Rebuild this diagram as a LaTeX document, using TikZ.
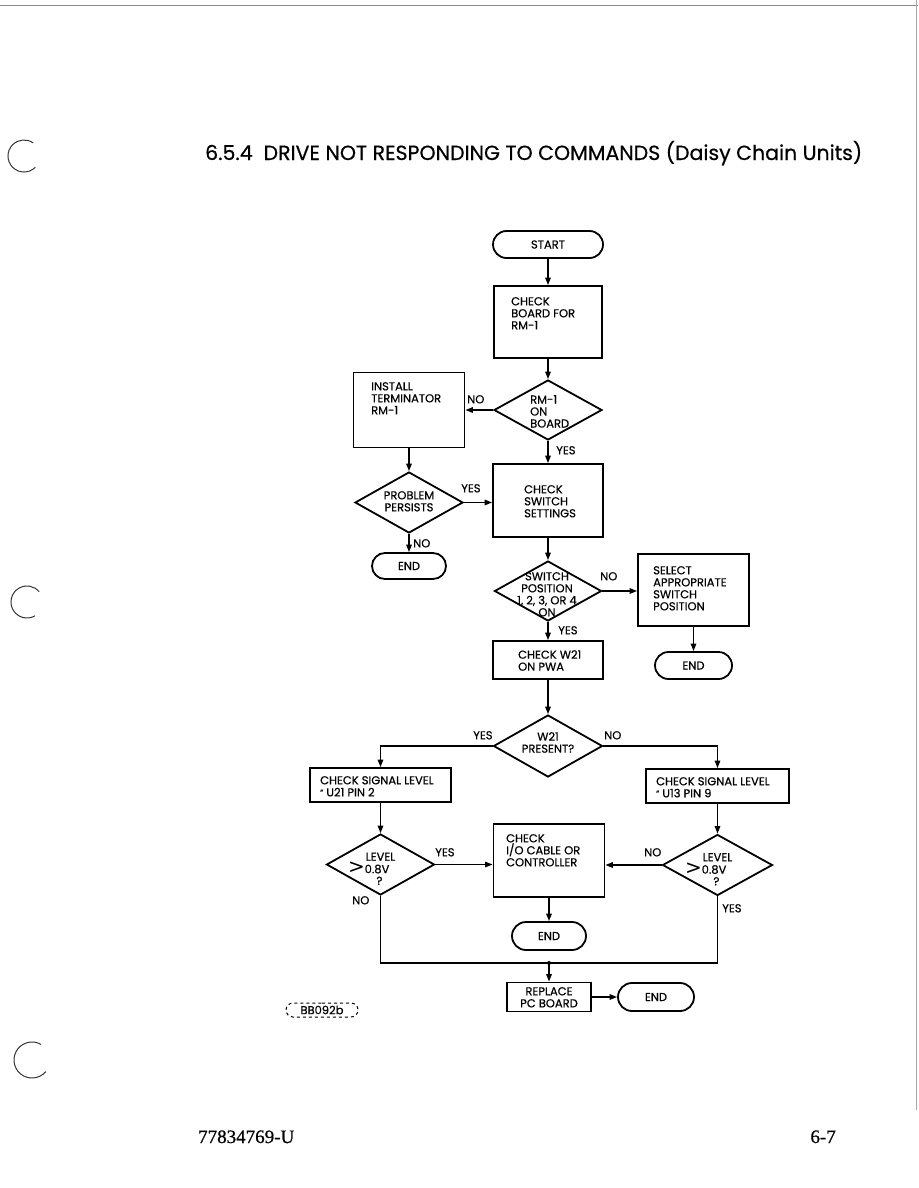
\documentclass[tikz,border=0pt]{standalone}
\usepackage{graphicx}
\usepackage{fontspec}
\setmainfont{Poppins}[FakeBold=0.5]
\newfontfamily\footfont{Liberation Serif}[FakeBold=0.8]
\newfontfamily\symfont{DejaVu Sans}
\usetikzlibrary{shapes.geometric,shapes.misc,arrows.meta,calc}
\newcommand\lbl{\fontsize{11.5}{12}\selectfont}
\newcommand\atmark{\raisebox{1pt}{\fontsize{8}{8}\selectfont ”}}
\tikzset{
  flow/.style={line width=1.8pt, draw=black},
  procbox/.style={flow, rectangle, inner sep=0pt},
  term/.style={flow, rounded rectangle, inner sep=0pt, font=\lbl},
  decide/.style={flow, diamond, inner sep=0pt},
  txt/.style={inner sep=0pt, anchor=north west, align=left, font=\lbl},
  ctxt/.style={inner sep=0pt, anchor=north, align=center, font=\lbl},
  conn/.style={line width=1.5pt, -{Triangle[length=7.5pt,width=5.5pt]}},
  plainline/.style={line width=1.5pt},
  deco/.style={line width=1pt, black!80},
}
\begin{document}
\begin{tikzpicture}[x=1pt,y=-1pt]
\useasboundingbox (0,0) rectangle (918,1188);
% page decorations
\draw[line width=0.7pt, black!45] (0,5) -- (918,5);
\draw[line width=0.6pt, black!35] (916,0) -- (916,1110);
\draw[deco] (24,156) ++(45:16) arc[start angle=45, end angle=305, radius=16];
\draw[deco] (27,602) ++(60:16) arc[start angle=60, end angle=320, radius=16];
\draw[deco] (32,1060) ++(40:18) arc[start angle=40, end angle=300, radius=18];
% title
\node[anchor=base west, inner sep=0pt] (title) at (205,160)
  {\resizebox{657pt}{!}{6.5.4\ \ DRIVE NOT RESPONDING TO COMMANDS (Daisy Chain Units)}};
% nodes
\node[term, minimum width=110pt, minimum height=27pt] (start) at (548,244.5) {START};
\node[procbox, minimum width=108pt, minimum height=72pt] (chkboard) at (548,322) {};
\node[txt] (tchkboard) at (511,297) {CHECK\\BOARD FOR\\RM-1};
\node[decide, minimum width=108pt, minimum height=60pt] (rm1) at (548,410) {};
\node[txt] (trm1) at (530,395) {RM-1\\ON\\BOARD};
\node[procbox, minimum width=111pt, minimum height=75pt] (install) at (409,410) {};
\node[txt] (tinstall) at (371,382) {INSTALL\\TERMINATOR\\RM-1};
\node[procbox, minimum width=110pt, minimum height=73pt] (chksw) at (548,500.5) {};
\node[txt] (tchksw) at (524,485) {CHECK\\SWITCH\\SETTINGS};
\node[decide, minimum width=108pt, minimum height=61pt] (prob) at (409,502.5) {};
\node[ctxt] (tprob) at (409,491) {PROBLEM\\PERSISTS};
\node[term, minimum width=74pt, minimum height=26pt] (end1) at (409,566) {END};
\node[decide, minimum width=107pt, minimum height=60pt] (sw) at (548,591) {};
\node[ctxt] (tsw) at (547,572) {SWITCH\\POSITION\\1, 2, 3, OR 4\\ON};
\node[procbox, minimum width=111pt, minimum height=72pt] (select) at (693.5,590) {};
\node[txt] (tselect) at (653,566) {SELECT\\APPROPRIATE\\SWITCH\\POSITION};
\node[term, minimum width=77pt, minimum height=27pt] (end2) at (693.5,665.5) {END};
\node[procbox, minimum width=110pt, minimum height=38pt] (w21box) at (548,660) {};
\node[txt] (tw21box) at (518,650) {CHECK W21\\ON PWA};
\node[decide, minimum width=109pt, minimum height=62pt] (w21) at (548,746) {};
\node[ctxt] (tw21) at (548,732) {W21\\PRESENT?};
\node[procbox, minimum width=141pt, minimum height=34pt] (sigL) at (380.5,785) {};
\node[txt] (tsigL) at (320,776) {CHECK SIGNAL LEVEL\\\atmark\ U21 PIN 2};
\node[procbox, minimum width=143pt, minimum height=34pt] (sigR) at (717.5,786) {};
\node[txt] (tsigR) at (656,777) {CHECK SIGNAL LEVEL\\\atmark\ U13 PIN 9};
\node[decide, minimum width=108pt, minimum height=61pt] (lvlL) at (380.5,864.5) {};
\node[decide, minimum width=110pt, minimum height=61pt] (lvlR) at (717.5,865) {};
\foreach \d in {lvlL,lvlR}{
  \node[ctxt] at ($(\d.center)+(0,-12)$) {LEVEL};
  \node[inner sep=0pt, font=\symfont\fontsize{20}{20}\selectfont] at ($(\d.center)+(-24,3.5)$) {>};
  \node[txt] at ($(\d.center)+(-16,0)$) {0.8V};
  \node[ctxt] at ($(\d.center)+(-1,12)$) {?};
}
\node[procbox, minimum width=111pt, minimum height=73pt] (io) at (549,860.5) {};
\node[txt] (tio) at (506,834) {CHECK\\I/O CABLE OR\\CONTROLLER};
\node[term, minimum width=74pt, minimum height=28pt] (end3) at (549,936) {END};
\node[procbox, minimum width=84pt, minimum height=29pt] (repl) at (549,997) {};
\node[ctxt] (trepl) at (549,987) {REPLACE\\PC BOARD};
\node[term, minimum width=76pt, minimum height=28pt] (end4) at (656,997) {END};
\node[draw, dashed, rounded rectangle, line width=1pt, inner sep=0pt,
  minimum width=72pt, minimum height=14pt, font=\fontsize{11.5}{11.5}\selectfont] (fig) at (322,1010) {BB092b};
% connectors
\draw[conn] (start.south) -- (chkboard.north);
\draw[conn] (chkboard.south) -- (rm1.north);
\draw[conn] (rm1.west) -- (rm1.west -| install.east);
\draw[conn] (rm1.south) -- (chksw.north);
\draw[conn] (install.south) -- (prob.north);
\draw[conn] (prob.east) -- (prob.east -| chksw.west);
\draw[conn] (prob.south) -- (end1.north);
\draw[conn] (chksw.south) -- (sw.north);
\draw[conn] (sw.east) -- (sw.east -| select.west);
\draw[conn] (select.south) -- (select.south |- end2.north);
\draw[conn] (sw.south) -- (w21box.north);
\draw[conn] (w21box.south) -- (w21.north);
\draw[conn] (w21.west) -| (sigL.north);
\draw[conn] (w21.east) -| (sigR.north);
\draw[conn] (sigL.south) -- (lvlL.north);
\draw[conn] (sigR.south) -- (lvlR.north);
\draw[conn] (lvlL.east) -- (lvlL.east -| io.west);
\draw[conn] (lvlR.west) -- (lvlR.west -| io.east);
\draw[conn] (io.south) -- (end3.north);
\coordinate (jn) at (549,963);
\draw[plainline] (lvlL.south) |- (jn) -| (lvlR.south);
\fill (jn) circle (2pt);
\draw[conn] (jn) -- (repl.north);
\draw[conn] (repl.east) -- (end4.west);
% connector labels
\node[txt] at (467,395) {NO};
\node[txt] at (556,446) {YES};
\node[txt] at (461,484) {YES};
\node[txt] at (413,539) {NO};
\node[txt] at (600,572) {NO};
\node[txt] at (558,626) {YES};
\node[txt] at (473,731) {YES};
\node[txt] at (604,731) {NO};
\node[txt] at (435,848) {YES};
\node[txt] at (644,848) {NO};
\node[txt] at (352,896) {NO};
\node[txt] at (722,904) {YES};
% footer
\node[anchor=base west, inner sep=0pt, font=\footfont\fontsize{19}{19}\selectfont] (docno) at (198,1143) {77834769-U};
\node[anchor=base east, inner sep=0pt, font=\footfont\fontsize{19}{19}\selectfont] (pageno) at (836,1143) {6-7};
\end{tikzpicture}
\end{document}
